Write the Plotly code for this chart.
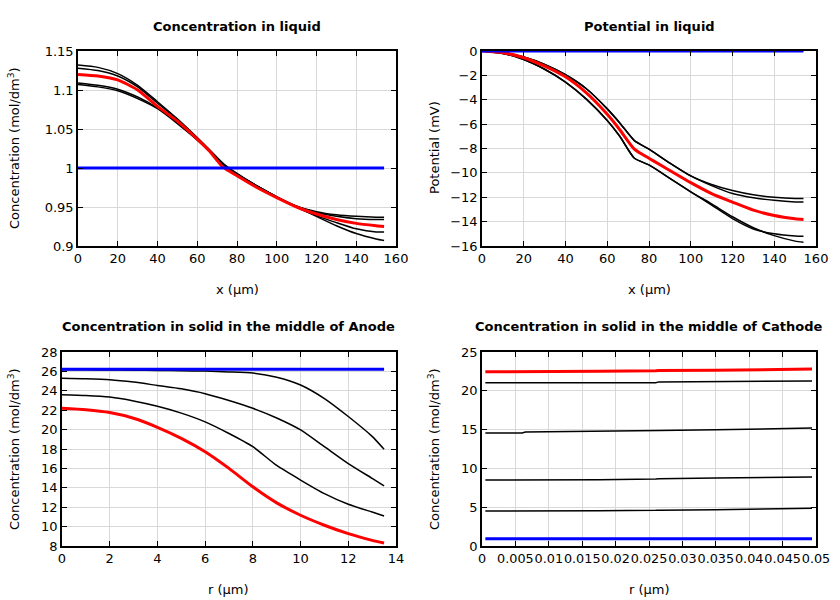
import plotly.graph_objects as go

# ---------------- Data ----------------
# Concentration in liquid
x_liq = [0, 10, 20, 30, 40, 50, 60, 66, 73, 80, 90, 100, 110, 120, 130, 140, 150, 154]
cl_a = [1.132, 1.129, 1.121, 1.106, 1.085, 1.063, 1.039, 1.024, 1.006, 0.993, 0.977, 0.963, 0.950, 0.938, 0.926, 0.916, 0.909, 0.907]
cl_b = [1.128, 1.125, 1.118, 1.104, 1.083, 1.062, 1.038, 1.023, 1.005, 0.992, 0.977, 0.963, 0.950, 0.939, 0.930, 0.922, 0.918, 0.918]
cl_c = [1.109, 1.106, 1.101, 1.091, 1.077, 1.058, 1.036, 1.022, 1.004, 0.992, 0.977, 0.963, 0.951, 0.944, 0.940, 0.938, 0.937, 0.937]
cl_d = [1.107, 1.104, 1.099, 1.089, 1.076, 1.057, 1.036, 1.022, 1.004, 0.992, 0.977, 0.963, 0.951, 0.943, 0.938, 0.935, 0.934, 0.934]
cl_red = [1.120, 1.118, 1.113, 1.100, 1.079, 1.060, 1.037, 1.022, 1.001, 0.990, 0.975, 0.962, 0.950, 0.941, 0.934, 0.929, 0.926, 0.925]
cl_blue = [1.0] * len(x_liq)

# Potential in liquid
pl_e = [0, -0.12, -0.50, -1.10, -1.95, -3.10, -4.75, -5.90, -7.35, -8.05, -9.20, -10.25, -10.95, -11.45, -11.80, -12.00, -12.10, -12.10]
pl_f = [0, -0.12, -0.50, -1.10, -1.95, -3.10, -4.75, -5.90, -7.35, -8.05, -9.20, -10.25, -11.05, -11.70, -12.05, -12.25, -12.38, -12.40]
pl_g = [0, -0.20, -0.70, -1.50, -2.55, -3.95, -5.70, -7.00, -8.80, -9.35, -10.45, -11.55, -12.65, -13.75, -14.60, -15.00, -15.18, -15.20]
pl_h = [0, -0.20, -0.70, -1.50, -2.55, -3.95, -5.70, -7.00, -8.80, -9.35, -10.45, -11.55, -12.55, -13.60, -14.50, -15.15, -15.60, -15.70]
pl_red = [0, -0.14, -0.55, -1.24, -2.12, -3.44, -5.20, -6.46, -8.05, -8.80, -9.80, -10.80, -11.70, -12.40, -13.06, -13.50, -13.77, -13.83]
pl_blue = [0.0] * len(x_liq)

# Concentration in solid, anode
r_an = [0, 1, 2, 3, 4, 5, 6, 7, 8, 9, 10, 11, 12, 13, 13.5]
ca_1 = [26.17, 26.16, 26.15, 26.13, 26.10, 26.07, 26.03, 25.95, 25.83, 25.40, 24.60, 23.20, 21.35, 19.30, 17.97]
ca_2 = [25.30, 25.25, 25.15, 24.90, 24.55, 24.20, 23.70, 23.00, 22.20, 21.20, 19.97, 18.24, 16.50, 14.97, 14.20]
ca_3 = [23.60, 23.52, 23.35, 22.95, 22.40, 21.70, 20.80, 19.60, 18.24, 16.30, 14.80, 13.40, 12.30, 11.50, 11.10]
ca_red = [22.20, 22.05, 21.76, 21.17, 20.24, 19.10, 17.72, 16.00, 14.10, 12.45, 11.17, 10.14, 9.27, 8.58, 8.30]
ca_blue = [26.22] * len(r_an)

# Concentration in solid, cathode
r_ca = [0.0005, 0.006, 0.0065, 0.017, 0.0175, 0.026, 0.0265, 0.035, 0.0494]
cc_1 = [21.05, 21.05, 21.05, 21.05, 21.05, 21.05, 21.15, 21.18, 21.26]
cc_2 = [14.56, 14.56, 14.70, 14.75, 14.78, 14.85, 14.88, 14.98, 15.20]
cc_3 = [8.50, 8.50, 8.50, 8.52, 8.55, 8.65, 8.67, 8.75, 8.90]
cc_4 = [4.50, 4.50, 4.50, 4.52, 4.54, 4.60, 4.62, 4.68, 4.85]
cc_red = [22.45, 22.45, 22.45, 22.45, 22.52, 22.58, 22.60, 22.65, 22.80]
cc_blue = [0.95] * len(r_ca)

# ---------------- Figure ----------------
fig = go.Figure()
BLACK = dict(color="black", width=1.5)
RED = dict(color="#ff0000", width=3)
BLUE = dict(color="#0000ff", width=3)

def add(xs, ys, line, xa, ya, smooth=True):
    ln = dict(line)
    if smooth:
        ln.update(shape="spline", smoothing=0.6)
    fig.add_trace(go.Scatter(x=xs, y=ys, mode="lines", line=ln,
                             xaxis=xa, yaxis=ya, showlegend=False, hoverinfo="skip"))

for s in (cl_a, cl_b, cl_c, cl_d):
    add(x_liq, s, BLACK, "x", "y")
add(x_liq, cl_red, RED, "x", "y")
add(x_liq, cl_blue, BLUE, "x", "y", False)

for s in (pl_e, pl_f, pl_g, pl_h):
    add(x_liq, s, BLACK, "x2", "y2")
add(x_liq, pl_red, RED, "x2", "y2")
add(x_liq, pl_blue, BLUE, "x2", "y2", False)

for s in (ca_1, ca_2, ca_3):
    add(r_an, s, BLACK, "x3", "y3")
add(r_an, ca_red, RED, "x3", "y3")
add(r_an, ca_blue, BLUE, "x3", "y3", False)

for s in (cc_1, cc_2, cc_3, cc_4):
    add(r_ca, s, BLACK, "x4", "y4", False)
add(r_ca, cc_red, RED, "x4", "y4", False)
add(r_ca, cc_blue, BLUE, "x4", "y4", False)

W, H = 840, 600
def px(v): return v / W
def py(v): return 1 - v / H

FONT = dict(family="DejaVu Sans", size=13, color="black")
axis_common = dict(showline=True, linecolor="black", linewidth=1.5, mirror="ticks",
                   ticks="inside", ticklen=5, tickcolor="black", tickwidth=1,
                   showgrid=True, gridcolor="#d9d9d9", gridwidth=1, zeroline=False,
                   tickfont=FONT, automargin=False, tickangle=0)

fig.update_layout(
    width=W, height=H, margin=dict(l=0, r=0, t=0, b=0, autoexpand=False),
    paper_bgcolor="white", plot_bgcolor="white", font=FONT,
    xaxis=dict(axis_common, domain=[px(78), px(396)], range=[0, 160], dtick=20, anchor="y"),
    yaxis=dict(axis_common, domain=[py(246), py(51)], range=[0.9, 1.15], anchor="x",
               tickvals=[0.9, 0.95, 1.0, 1.05, 1.1, 1.15], ticktext=["0.9", "0.95", "1", "1.05", "1.1", "1.15"]),
    xaxis2=dict(axis_common, domain=[px(482), px(816)], range=[0, 160], dtick=20, anchor="y2"),
    yaxis2=dict(axis_common, domain=[py(246), py(51)], range=[-16, 0], dtick=2, anchor="x2"),
    xaxis3=dict(axis_common, domain=[px(62), px(396)], range=[0, 14], dtick=2, anchor="y3"),
    yaxis3=dict(axis_common, domain=[py(546), py(352)], range=[8, 28], dtick=2, anchor="x3"),
    xaxis4=dict(axis_common, domain=[px(482), px(816)], range=[0, 0.05], dtick=0.005, anchor="y4",
                tickfont=dict(family="DejaVu Sans", size=12.8, color="black")),
    yaxis4=dict(axis_common, domain=[py(546), py(352)], range=[0, 25], dtick=5, anchor="x4"),
)

def ann(text, x, y, bold=False, angle=0):
    fig.add_annotation(text=f"<b>{text}</b>" if bold else text, x=px(x), y=py(y),
                       xref="paper", yref="paper", showarrow=False, textangle=angle,
                       xanchor="center", yanchor="middle", font=FONT)

ann("Concentration in liquid", 237, 26, bold=True)
ann("Potential in liquid", 649, 26, bold=True)
ann("Concentration in solid in the middle of Anode", 229, 326, bold=True)
ann("Concentration in solid in the middle of Cathode", 649, 326, bold=True)

ann("x (µm)", 237, 289)
ann("x (µm)", 649, 289)
ann("r (µm)", 229, 589)
ann("r (µm)", 649, 589)

ann("Concentration (mol/dm<sup>3</sup>)", 14, 148, angle=-90)
ann("Potential (mV)", 434, 148, angle=-90)
ann("Concentration (mol/dm<sup>3</sup>)", 14, 449, angle=-90)
ann("Concentration (mol/dm<sup>3</sup>)", 434, 449, angle=-90)

fig.write_html("out.html", config={"displayModeBar": False},
               post_script="document.body.style.margin='0';document.body.style.overflow='hidden';")
